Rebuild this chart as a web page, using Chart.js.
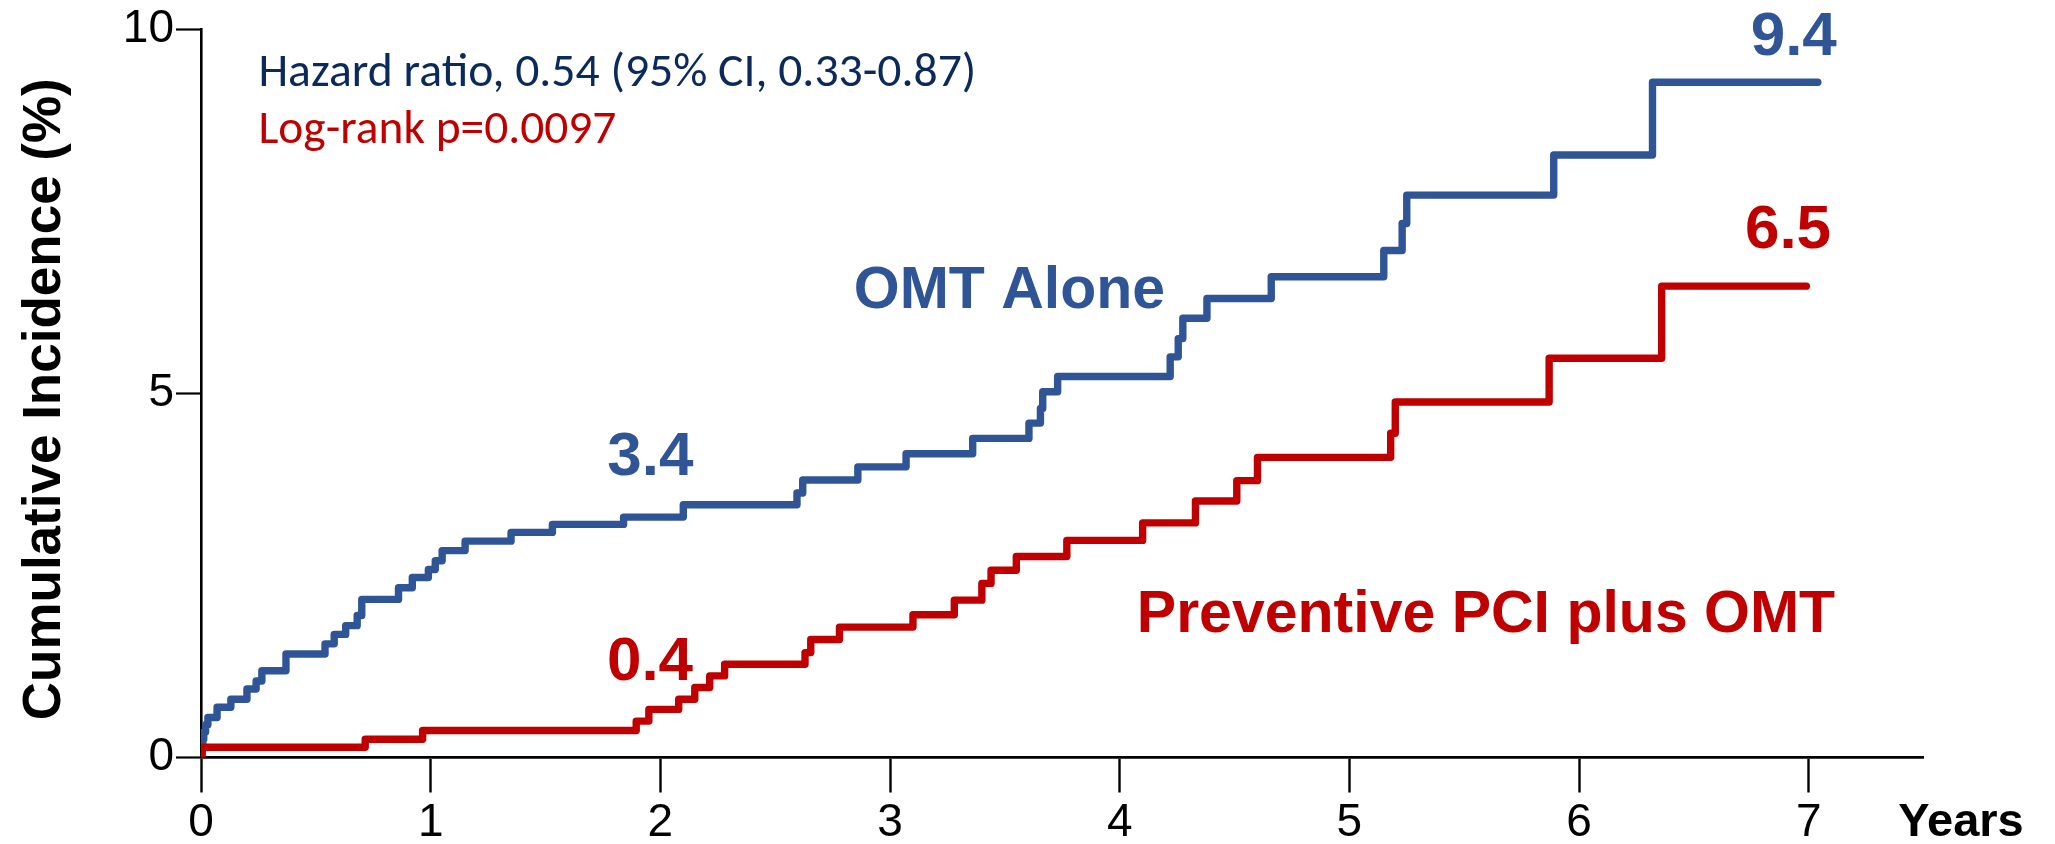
<!DOCTYPE html>
<html>
<head>
<meta charset="utf-8">
<script src="https://cdn.jsdelivr.net/npm/chart.js@4.4.1/dist/chart.umd.min.js"></script>
<style>
html,body{margin:0;padding:0;background:#ffffff;}
#wrap{width:2055px;height:844px;position:relative;}
</style>
</head>
<body>
<div id="wrap"><canvas id="km"></canvas></div>
<script>
// ---------- data ----------
const xTickValues = [0, 1, 2, 3, 4, 5, 6, 7];
const yTickValues = [0, 5, 10];

const omtYears = [0, 0.004, 0.008, 0.012, 0.02, 0.03, 0.07, 0.13, 0.20, 0.24, 0.265, 0.37, 0.54, 0.58, 0.63, 0.68, 0.70,
  0.86, 0.92, 0.99, 1.02, 1.05, 1.15, 1.35, 1.53, 1.84, 2.10, 2.595, 2.62, 2.86, 3.07, 3.36, 3.605, 3.655, 3.665,
  3.73, 4.22, 4.255, 4.275, 4.38, 4.66, 5.15, 5.23, 5.25, 5.89, 6.32, 7.04];
const omtIncidence = [0.05, 0.15, 0.25, 0.35, 0.45, 0.55, 0.69, 0.80, 0.94, 1.05, 1.19, 1.42, 1.56, 1.69, 1.81, 1.95, 2.17,
  2.33, 2.47, 2.58, 2.70, 2.84, 2.97, 3.09, 3.20, 3.30, 3.47, 3.63, 3.81, 3.99, 4.17, 4.38, 4.59, 4.79, 5.02,
  5.23, 5.50, 5.75, 6.03, 6.30, 6.60, 6.96, 7.33, 7.72, 8.27, 9.27, 9.27];

const pciYears = [0, 0.005, 0.715, 0.965, 1.895, 1.95, 2.08, 2.15, 2.215, 2.28, 2.63, 2.655, 2.78, 3.10, 3.28, 3.40,
  3.44, 3.55, 3.77, 4.10, 4.33, 4.51, 4.60, 5.18, 5.20, 5.87, 6.36, 6.99];
const pciIncidence = [0, 0.14, 0.25, 0.37, 0.50, 0.66, 0.80, 0.96, 1.12, 1.28, 1.44, 1.62, 1.79, 1.96, 2.16, 2.39,
  2.57, 2.76, 2.98, 3.22, 3.52, 3.80, 4.12, 4.45, 4.88, 5.48, 6.47, 6.47];

const seriesNames = ['OMT Alone', 'Preventive PCI plus OMT'];
const omtRateLabels = ['3.4', '9.4'];
const pciRateLabels = ['0.4', '6.5'];
const hazardText = 'Hazard ratio, 0.54 (95% CI, 0.33-0.87)';
const logRankText = 'Log-rank p=0.0097';
const yTitle = 'Cumulative Incidence (%)';
const xTitle = 'Years';

// ---------- styles ----------
const BLUE = '#2F5597';
const RED = '#C00000';
const NAVY = '#0B2A5C';
const ARIAL = '"Liberation Sans", Arial, sans-serif';
const CALIBRI = 'Carlito, Lato, "Open Sans", sans-serif';

const toPoints = (xs, ys) => xs.map((t, i) => ({x: t, y: ys[i]}));

// annotation placement (data coordinates for anchor)
const annotations = [
  {text: hazardText, x: 0.25, y: 9.215, align: 'left', family: CALIBRI, weight: 'normal', size: 34, color: NAVY, fit: 718},
  {text: logRankText, x: 0.25, y: 8.43, align: 'left', family: CALIBRI, weight: 'normal', size: 34, color: RED, fit: 358},
  {text: seriesNames[0], x: 3.52, y: 6.164, align: 'center', family: ARIAL, weight: 'bold', size: 59, color: BLUE},
  {text: seriesNames[1], x: 5.595, y: 1.722, align: 'center', family: ARIAL, weight: 'bold', size: 59, color: RED},
  {text: omtRateLabels[0], x: 1.957, y: 3.88, align: 'center', family: ARIAL, weight: 'bold', size: 62, color: BLUE},
  {text: omtRateLabels[1], x: 6.935, y: 9.64, align: 'center', family: ARIAL, weight: 'bold', size: 62, color: BLUE},
  {text: pciRateLabels[0], x: 1.955, y: 1.06, align: 'center', family: ARIAL, weight: 'bold', size: 62, color: RED},
  {text: pciRateLabels[1], x: 6.91, y: 6.99, align: 'center', family: ARIAL, weight: 'bold', size: 62, color: RED}
];

const textPlugin = {
  id: 'kmTexts',
  afterDraw(chart) {
    const {ctx, chartArea, scales} = chart;
    const xs = scales.x, ys = scales.y;
    ctx.save();
    ctx.textBaseline = 'alphabetic';
    for (const a of annotations) {
      let size = a.size;
      ctx.font = `${a.weight} ${size}px ${a.family}`;
      if (a.fit) {
        const w = ctx.measureText(a.text).width;
        size = size * a.fit / w;
        ctx.font = `${a.weight} ${size}px ${a.family}`;
      }
      ctx.fillStyle = a.color;
      ctx.textAlign = a.align;
      ctx.fillText(a.text, xs.getPixelForValue(a.x), ys.getPixelForValue(a.y));
    }
    // x axis title "Years"
    ctx.font = `bold 47px ${ARIAL}`;
    ctx.fillStyle = '#000';
    ctx.textAlign = 'left';
    ctx.fillText(xTitle, xs.getPixelForValue(7.39), chartArea.bottom + 78);
    // y axis title
    ctx.translate(59.5, (chartArea.top + chartArea.bottom) / 2 + 6);
    ctx.rotate(-Math.PI / 2);
    ctx.font = `bold 53px ${ARIAL}`;
    ctx.textAlign = 'center';
    ctx.fillText(yTitle, 0, 0);
    ctx.restore();
  }
};

const tickFont = {family: ARIAL, size: 46, lineHeight: 1};

new Chart(document.getElementById('km'), {
  type: 'line',
  data: {
    datasets: [
      {label: seriesNames[1], data: toPoints(pciYears, pciIncidence), borderColor: RED, backgroundColor: RED},
      {label: seriesNames[0], data: toPoints(omtYears, omtIncidence), borderColor: BLUE, backgroundColor: BLUE}
    ]
  },
  options: {
    responsive: true,
    maintainAspectRatio: false,
    animation: false,
    devicePixelRatio: 1,
    layout: {padding: {left: 0, right: 131.5, top: 29, bottom: 0}},
    plugins: {legend: {display: false}, tooltip: {enabled: false}},
    elements: {
      point: {radius: 0, hoverRadius: 0},
      line: {borderWidth: 7.4, stepped: 'before', fill: false, tension: 0, borderCapStyle: 'round', borderJoinStyle: 'round'}
    },
    scales: {
      x: {
        type: 'linear', min: 0, max: 7.5,
        afterBuildTicks: s => { s.ticks = xTickValues.map(v => ({value: v})); },
        afterFit: s => { s.height = 86.5; },
        grid: {drawOnChartArea: false, drawTicks: true, tickLength: 35, tickWidth: 2.4, tickColor: '#000'},
        border: {display: true, color: '#000', width: 2.8},
        ticks: {font: tickFont, color: '#000', padding: 8, maxRotation: 0, autoSkip: false}
      },
      y: {
        type: 'linear', min: 0, max: 10,
        afterBuildTicks: s => { s.ticks = yTickValues.map(v => ({value: v})); },
        afterFit: s => { s.width = 201; },
        grid: {drawOnChartArea: false, drawTicks: true, tickLength: 25, tickWidth: 2.2, tickColor: '#000'},
        border: {display: true, color: '#000', width: 2.6},
        ticks: {font: tickFont, color: '#000', padding: 2, autoSkip: false}
      }
    }
  },
  plugins: [textPlugin]
});
</script>
</body>
</html>
